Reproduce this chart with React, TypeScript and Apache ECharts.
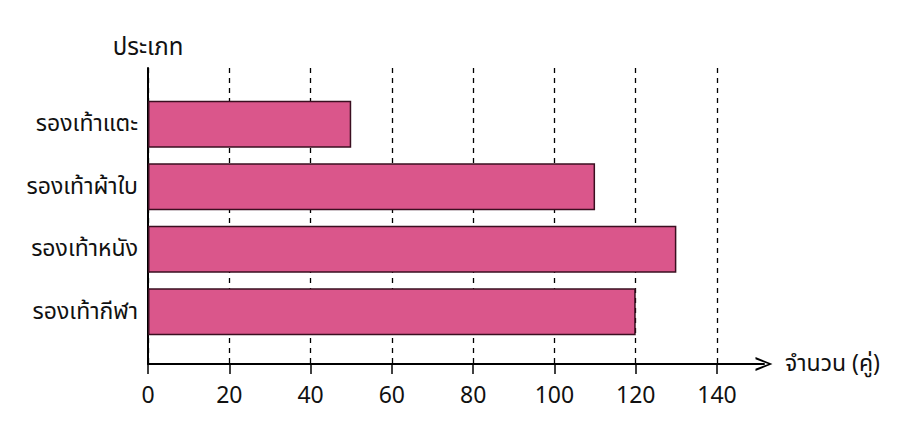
import React, { useEffect, useRef } from "react";
import * as echarts from "echarts";

const categories = ["รองเท้าแตะ", "รองเท้าผ้าใบ", "รองเท้าหนัง", "รองเท้ากีฬา"];
const values = [50, 110, 130, 120];
const xMin = 0;
const xMax = 140;
const xInterval = 20;
const xAxisTitle = "จำนวน (คู่)";
const yAxisTitle = "ประเภท";

const FONT = "'Noto Sans Thai', 'Noto Sans', 'DejaVu Sans', sans-serif";

export default function App() {
  const ref = useRef<HTMLDivElement>(null);
  useEffect(() => {
    if (!ref.current) return;
    const chart = echarts.init(ref.current, null, { renderer: "svg" });
    const chevron = "path://M0,17 L7,0 L14,17 L11.8,17 L7,4.2 L2.2,17 Z";
    chart.setOption({
      animation: false,
      backgroundColor: "#ffffff",
      textStyle: { fontFamily: FONT },
      grid: [
        { left: 140, top: 60, width: 569, height: 296 },
        { left: 140, top: 60, width: 616, height: 296 },
        { left: 140, top: 85, width: 569, height: 250 },
      ],
      xAxis: [
        {
          gridIndex: 0,
          type: "value",
          min: xMin,
          max: xMax,
          interval: xInterval,
          axisLine: { show: false },
          axisTick: { show: true, length: 10, lineStyle: { color: "#000", width: 1.5 } },
          axisLabel: { color: "#111", fontSize: 23, margin: 20, fontFamily: FONT },
          splitLine: { show: true, lineStyle: { color: "#000", width: 1.3, type: [5, 5] } },
        },
        {
          gridIndex: 1,
          type: "value",
          min: 0,
          max: 1,
          axisLine: {
            show: true,
            lineStyle: { color: "#000", width: 2 },
            symbol: ["none", chevron],
            symbolSize: [15, 17],
          },
          axisTick: { show: false },
          axisLabel: { show: false },
          splitLine: { show: false },
          name: xAxisTitle,
          nameLocation: "end",
          nameGap: 21,
          nameTextStyle: { color: "#111", fontSize: 23, fontFamily: FONT, verticalAlign: "middle" },
        },
        {
          gridIndex: 2,
          type: "value",
          min: xMin,
          max: xMax,
          show: false,
        },
      ],
      yAxis: [
        {
          gridIndex: 0,
          type: "value",
          min: 0,
          max: 1,
          axisLine: { show: true, lineStyle: { color: "#000", width: 2 } },
          axisTick: { show: false },
          axisLabel: { show: false },
          splitLine: { show: false },
          name: yAxisTitle,
          nameLocation: "end",
          nameGap: 8,
          nameTextStyle: { color: "#111", fontSize: 24, fontFamily: FONT, align: "center" },
        },
        {
          gridIndex: 1,
          type: "value",
          show: false,
        },
        {
          gridIndex: 2,
          type: "category",
          data: categories,
          inverse: true,
          axisLine: { show: false },
          axisTick: { show: false },
          axisLabel: { color: "#111", fontSize: 23, margin: 10, fontFamily: FONT },
        },
      ],
      series: [
        {
          type: "bar",
          xAxisIndex: 2,
          yAxisIndex: 2,
          data: values,
          barWidth: 47,
          itemStyle: { color: "#DA568B", borderColor: "#3a0f20", borderWidth: 1.5 },
        },
      ],
    });
    return () => chart.dispose();
  }, []);
  return <div ref={ref} style={{ width: 892, height: 420 }} />;
}
